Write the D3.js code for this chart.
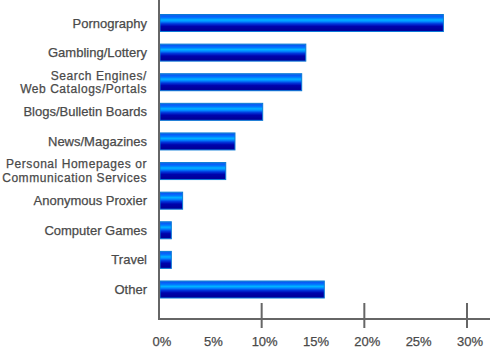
<!DOCTYPE html>
<html>
<head>
<meta charset="utf-8">
<script src="https://cdn.jsdelivr.net/npm/d3@7"></script>
<style>
  body { margin: 0; background: #fff; }
  svg { display: block; }
  text { font-family: "Liberation Sans", Arial, Helvetica, sans-serif; fill: #4a4a4a; stroke: #4a4a4a; stroke-width: 0.25px; }
</style>
</head>
<body>
<div id="chart"></div>
<script>
const categories = [
    "Pornography",
    "Gambling/Lottery",
    "Search Engines/\nWeb Catalogs/Portals",
    "Blogs/Bulletin Boards",
    "News/Magazines",
    "Personal Homepages or\nCommunication Services",
    "Anonymous Proxier",
    "Computer Games",
    "Travel",
    "Other"
];
const values = [27.7, 14.3, 13.9, 10.1, 7.4, 6.5, 2.3, 1.2, 1.2, 16.1];
const tickLabels = [0, 5, 10, 15, 20, 25, 30];
const majorTicks = [10, 20, 30];

const width = 490, height = 351;

const svg = d3.select("#chart")
    .append("svg")
    .attr("width", width)
    .attr("height", height);

// bar gradient (tube look)
const grad = svg.append("defs")
    .append("linearGradient")
    .attr("id", "barGrad")
    .attr("x1", 0).attr("y1", 0)
    .attr("x2", 0).attr("y2", 1);
[
    [0, "#1a80e0"], [0.08, "#0a58f5"], [0.2, "#0078ff"], [0.32, "#00b4ff"],
    [0.42, "#0088ff"], [0.55, "#0035dd"], [0.7, "#0002ac"], [0.9, "#00009a"], [1, "#0000a6"]
].forEach(s => grad.append("stop").attr("offset", s[0]).attr("stop-color", s[1]));

const x = d3.scaleLinear()
    .domain([0, 30])
    .range([159, 467]);

const y = d3.scalePoint()
    .domain(categories)
    .range([23, 289.5]);

const axisY = 319;

// bars
svg.selectAll(".bar")
    .data(values)
    .enter().append("rect")
    .attr("class", "bar")
    .attr("x", x(0) + 1)
    .attr("y", (d, i) => y(categories[i]) - 8.5)
    .attr("width", d => x(d) - x(0) - 1)
    .attr("height", 17)
    .attr("fill", "url(#barGrad)")
    .attr("stroke", "#0a7ad6")
    .attr("stroke-width", 1);

// category labels (two-line ones a bit smaller, spaced out to keep the width)
const lab = svg.selectAll(".cat")
    .data(categories)
    .enter().append("text")
    .attr("class", "cat")
    .attr("text-anchor", "end")
    .style("font-size", d => d.includes("\n") ? "12px" : "13px")
    .style("letter-spacing", d => d.includes("\n") ? "0.55px" : null)
    .attr("transform", d => "translate(147," + y(d) + ")");

lab.each(function (d) {
    const lines = d.split("\n");
    const t = d3.select(this);
    lines.forEach((ln, k) => {
        t.append("tspan")
            .attr("x", 0)
            .attr("y", (k - (lines.length - 1) / 2) * 13.6)
            .attr("dy", "0.35em")
            .text(ln);
    });
});

// axes lines
svg.append("line")
    .attr("x1", x(0)).attr("x2", x(0))
    .attr("y1", 0).attr("y2", axisY + 1)
    .attr("stroke", "#666").attr("stroke-width", 2);

svg.append("line")
    .attr("x1", x(0) - 1).attr("x2", width)
    .attr("y1", axisY).attr("y2", axisY)
    .attr("stroke", "#666").attr("stroke-width", 2);

svg.selectAll(".tick")
    .data(majorTicks)
    .enter().append("line")
    .attr("class", "tick")
    .attr("x1", d => x(d)).attr("x2", d => x(d))
    .attr("y1", axisY - 16).attr("y2", axisY + 9)
    .attr("stroke", "#666").attr("stroke-width", 2);

svg.selectAll(".tlab")
    .data(tickLabels)
    .enter().append("text")
    .attr("class", "tlab")
    .attr("x", d => x(d) + 3)
    .attr("y", 346)
    .attr("text-anchor", "middle")
    .style("font-size", "13px")
    .text(d => d + "%");
</script>
</body>
</html>
